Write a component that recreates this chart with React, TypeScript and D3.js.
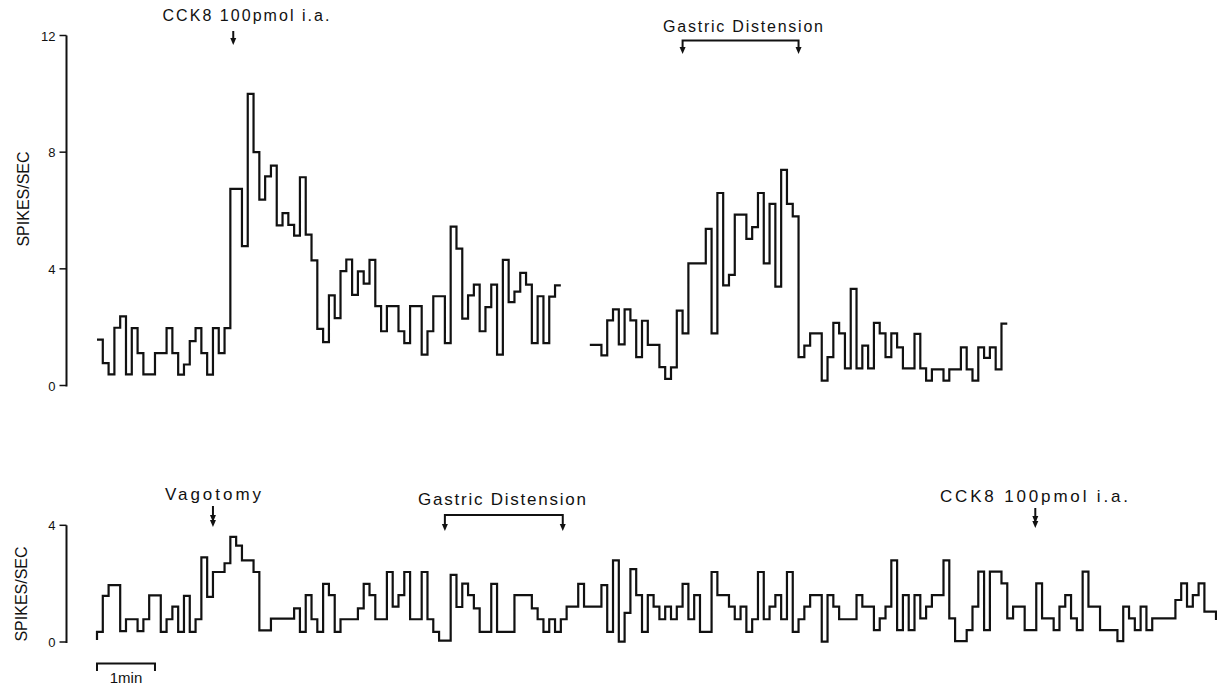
import { useEffect, useRef } from "react";
import * as d3 from "d3";

// firing rate histograms, 6 s bins (spikes/sec)
const BIN_SEC = 6;

const topLeftRate = [
  1.57, 0.77, 0.38, 1.98, 2.37, 0.38, 1.97, 1.11, 0.38, 0.38,
  1.11, 1.11, 1.97, 1.11, 0.37, 0.72, 1.52, 1.97, 1.11, 0.37,
  1.97, 1.11, 1.97, 6.74, 6.74, 4.78, 10.0, 8.0, 6.37, 7.17,
  7.54, 5.49, 5.91, 5.51, 5.14, 7.14, 5.17, 4.29, 1.94, 1.49,
  3.09, 2.31, 3.92, 4.32, 3.11, 3.91, 3.49, 4.31, 2.72, 1.86,
  2.72, 2.72, 1.86, 1.45, 2.72, 2.72, 1.06, 1.86, 3.06, 3.06,
  1.45, 5.45, 4.69, 2.29, 3.09, 3.46, 1.86, 2.69, 3.46, 1.06,
  4.31, 2.86, 3.22, 3.86, 3.46, 1.45, 3.06, 1.45, 3.05, 3.43,
];

const topRightStartBin = 85;
const topRightRate = [
  1.39, 1.39, 1.03, 2.23, 2.61, 1.41, 2.61, 2.23, 0.97, 2.22,
  1.39, 1.39, 0.63, 0.23, 0.62, 2.57, 1.79, 4.19, 4.19, 4.19,
  5.37, 1.79, 6.6, 3.43, 3.79, 5.86, 5.86, 5.03, 5.43, 6.6,
  4.19, 6.23, 3.39, 7.39, 6.23, 5.8, 0.97, 1.37, 1.79, 1.79,
  0.17, 0.97, 2.15, 1.79, 0.59, 3.31, 0.59, 1.37, 0.59, 2.15,
  1.79, 0.97, 1.79, 1.31, 0.59, 0.59, 1.77, 0.59, 0.17, 0.55,
  0.55, 0.17, 0.55, 0.55, 1.31, 0.55, 0.17, 1.31, 0.95, 1.31,
  0.55, 2.12,
];

const bottomStartLevel = 0.07;
const bottomEndLevel = 0.75;
const bottomRate = [
  0.35, 1.58, 1.95, 1.95, 0.37, 0.78, 0.78, 0.37, 0.78, 1.6,
  1.6, 0.35, 0.78, 1.21, 0.35, 1.58, 0.35, 0.78, 2.9, 1.55,
  2.4, 2.4, 2.7, 3.6, 3.3, 2.8, 2.8, 2.4, 0.4, 0.4,
  0.8, 0.8, 0.8, 0.8, 1.15, 0.35, 1.61, 0.78, 0.35, 1.99,
  1.61, 0.35, 0.78, 0.78, 0.78, 1.15, 1.99, 1.61, 0.78, 0.78,
  2.4, 1.21, 1.61, 2.4, 0.78, 0.78, 2.4, 0.78, 0.35, 0.05,
  0.05, 2.3, 1.2, 2.0, 1.61, 1.15, 0.35, 0.35, 1.99, 0.35,
  0.35, 0.35, 1.61, 1.61, 1.61, 1.15, 0.78, 0.35, 0.78, 0.35,
  0.78, 1.21, 1.21, 1.99, 1.21, 1.21, 1.21, 1.95, 0.35, 2.8,
  0.01, 1.0, 2.5, 1.61, 0.35, 1.61, 1.21, 0.78, 1.21, 0.78,
  1.21, 1.99, 0.78, 1.61, 0.35, 0.35, 2.4, 1.61, 1.61, 1.21,
  0.78, 1.21, 0.35, 0.78, 2.4, 0.78, 1.21, 1.61, 0.78, 2.4,
  0.35, 0.78, 1.21, 1.61, 1.61, 0.01, 1.61, 1.21, 0.78, 0.78,
  0.78, 1.61, 1.21, 1.21, 0.41, 0.81, 1.21, 2.8, 0.41, 1.61,
  0.41, 1.61, 0.81, 1.21, 1.61, 1.61, 2.8, 0.81, 0.03, 0.03,
  0.41, 1.21, 2.41, 0.41, 2.41, 2.41, 2.01, 0.81, 1.21, 1.21,
  0.41, 0.41, 2.01, 0.81, 0.81, 0.41, 1.21, 1.61, 0.81, 0.41,
  2.41, 1.21, 1.21, 0.41, 0.41, 0.41, 0.03, 1.21, 0.81, 0.41,
  1.21, 0.41, 0.81, 0.81, 0.81, 0.81, 1.44, 2.01, 1.21, 1.61,
  2.01, 1.04, 1.04,
];

const topTicks = [0, 4, 8, 12];
const bottomTicks = [0, 4];
const yLabel = "SPIKES/SEC";
const scaleBarSec = 60;
const scaleBarLabel = "1min";

// event markers, times in seconds from trace start
const topInjection = { label: "CCK8 100pmol i.a.", t: 141 };
const topDistension = { label: "Gastric Distension", t0: 606, t1: 726 };
const bottomVagotomy = { label: "Vagotomy", t: 120 };
const bottomDistension = { label: "Gastric Distension", t0: 360, t1: 482 };
const bottomInjection = { label: "CCK8 100pmol i.a.", t: 971 };

const FONT = "'Liberation Sans', Arial, Helvetica, sans-serif";

export default function App() {
  const ref = useRef<SVGSVGElement | null>(null);

  useEffect(() => {
    const svg = d3.select(ref.current);
    svg.selectAll("*").remove();

    const W = 1217;
    const H = 685;
    svg.attr("viewBox", `0 0 ${W} ${H}`);
    svg.append("rect").attr("width", W).attr("height", H).attr("fill", "#fff");

    const totalSec = bottomRate.length * BIN_SEC;
    const x = d3.scaleLinear().domain([0, totalSec]).range([97, 1216]);
    const yTop = d3.scaleLinear().domain([0, 12]).range([385.5, 35.5]);
    const yBot = d3.scaleLinear().domain([0, 4]).range([642, 525.3]);
    const axisX = 66.5;

    const toSteps = (vals: number[], startBin: number, head?: number, tail?: number) => {
      const pts: [number, number][] = [];
      const t0 = startBin * BIN_SEC;
      if (head !== undefined) pts.push([t0, head]);
      vals.forEach((v, i) => pts.push([t0 + i * BIN_SEC, v]));
      const tEnd = t0 + vals.length * BIN_SEC;
      pts.push([tEnd, vals[vals.length - 1]]);
      if (tail !== undefined) pts.push([tEnd, tail]);
      return pts;
    };

    const drawTrace = (pts: [number, number][], y: d3.ScaleLinear<number, number>) => {
      const line = d3
        .line<[number, number]>()
        .x((d) => x(d[0]))
        .y((d) => y(d[1]))
        .curve(d3.curveStepAfter);
      svg
        .append("path")
        .attr("d", line(pts) as string)
        .attr("fill", "none")
        .attr("stroke", "#111")
        .attr("stroke-width", 2.2)
        .attr("stroke-linejoin", "miter");
    };

    const drawAxis = (y: d3.ScaleLinear<number, number>, ticks: number[]) => {
      const g = svg.append("g").attr("font-family", FONT);
      const [lo, hi] = y.range();
      g.append("line")
        .attr("x1", axisX).attr("x2", axisX)
        .attr("y1", lo + 1).attr("y2", hi)
        .attr("stroke", "#111").attr("stroke-width", 2);
      g.selectAll("line.tick")
        .data(ticks)
        .join("line")
        .attr("class", "tick")
        .attr("x1", axisX - 7).attr("x2", axisX)
        .attr("y1", (d) => y(d)).attr("y2", (d) => y(d))
        .attr("stroke", "#111").attr("stroke-width", 1.5);
      g.selectAll("text.tl")
        .data(ticks)
        .join("text")
        .attr("class", "tl")
        .attr("x", axisX - 11)
        .attr("y", (d) => y(d) + 5)
        .attr("text-anchor", "end")
        .attr("font-size", 13)
        .attr("fill", "#111")
        .text((d) => d);
    };

    const drawYLabel = (cx: number, cy: number) => {
      svg
        .append("text")
        .attr("transform", `translate(${cx},${cy}) rotate(-90)`)
        .attr("text-anchor", "middle")
        .attr("font-family", FONT)
        .attr("font-size", 16)
        .attr("fill", "#111")
        .text(yLabel);
    };

    const arrowHead = (px: number, tipY: number, count = 1) => {
      for (let k = 0; k < count; k++) {
        const ty = tipY - k * 5;
        svg
          .append("path")
          .attr("d", `M${px - 3},${ty - 7}L${px + 3},${ty - 7}L${px},${ty}Z`)
          .attr("fill", "#111");
      }
    };

    const arrow = (px: number, y1: number, y2: number, heads = 1) => {
      svg
        .append("line")
        .attr("x1", px).attr("x2", px)
        .attr("y1", y1).attr("y2", y2 - 4)
        .attr("stroke", "#111").attr("stroke-width", 2);
      arrowHead(px, y2, heads);
    };

    const bracket = (xa: number, xb: number, yb: number, tipY: number) => {
      svg
        .append("path")
        .attr("d", `M${xa},${tipY - 4}V${yb}H${xb}V${tipY - 4}`)
        .attr("fill", "none")
        .attr("stroke", "#111")
        .attr("stroke-width", 2);
      arrowHead(xa, tipY);
      arrowHead(xb, tipY);
    };

    const label = (txt: string, cx: number, yb: number, size: number, len: number) => {
      svg
        .append("text")
        .attr("x", cx - len / 2)
        .attr("y", yb)
        .attr("font-family", FONT)
        .attr("font-size", size)
        .attr("fill", "#111")
        .attr("textLength", len)
        .attr("lengthAdjust", "spacing")
        .text(txt);
    };

    // ---- top panel
    drawAxis(yTop, topTicks);
    drawYLabel(29, 199);
    drawTrace(toSteps(topLeftRate, 0), yTop);
    drawTrace(toSteps(topRightRate, topRightStartBin), yTop);

    label(topInjection.label, 246, 21, 16, 167);
    arrow(x(topInjection.t), 31, 45);

    label(topDistension.label, 743, 32, 16, 160);
    bracket(x(topDistension.t0), x(topDistension.t1), 40.5, 54);

    // ---- bottom panel
    drawAxis(yBot, bottomTicks);
    drawYLabel(27, 594);
    drawTrace(toSteps(bottomRate, 0, bottomStartLevel, bottomEndLevel), yBot);

    label(bottomVagotomy.label, 213, 500, 17, 96);
    arrow(x(bottomVagotomy.t), 506, 527, 2);

    label(bottomDistension.label, 502, 505, 17, 168);
    bracket(x(bottomDistension.t0), x(bottomDistension.t1), 515, 531);

    label(bottomInjection.label, 1034, 502, 17, 188);
    arrow(x(bottomInjection.t), 508, 528, 2);

    // time scale bar
    const sb = svg.append("g");
    sb.append("path")
      .attr("d", `M${x(0)},671V663.5H${x(scaleBarSec)}V671`)
      .attr("fill", "none")
      .attr("stroke", "#111")
      .attr("stroke-width", 2);
    sb.append("text")
      .attr("x", x(scaleBarSec / 2))
      .attr("y", 683)
      .attr("text-anchor", "middle")
      .attr("font-family", FONT)
      .attr("font-size", 15)
      .attr("fill", "#111")
      .text(scaleBarLabel);
  }, []);

  return (
    <div style={{ position: "absolute", left: 0, top: 0 }}>
      <svg ref={ref} width={1217} height={685} style={{ display: "block" }} />
    </div>
  );
}
